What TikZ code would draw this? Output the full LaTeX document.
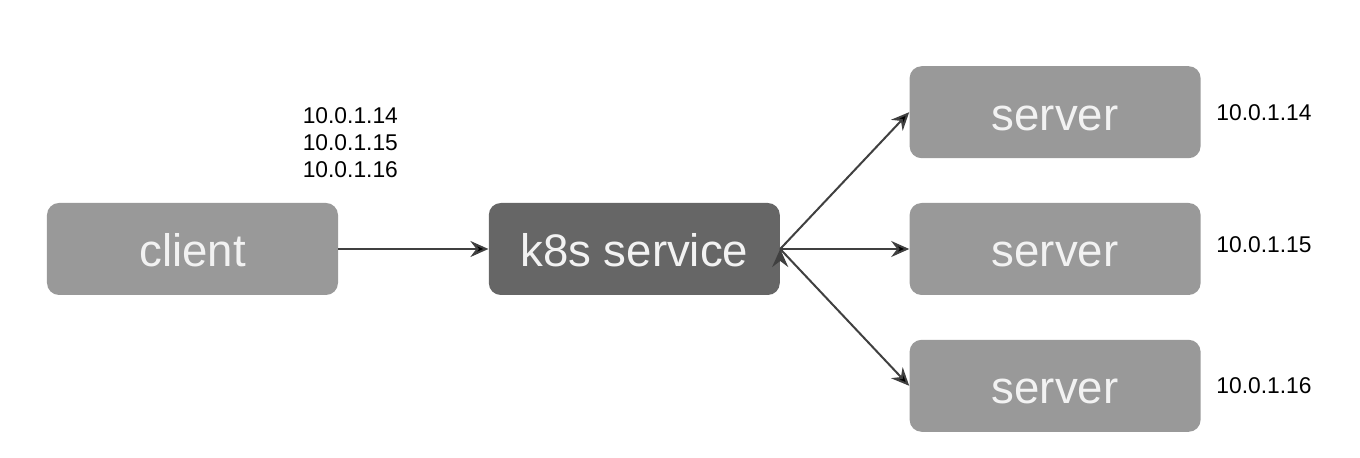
\documentclass[tikz,border=0pt]{standalone}
\usepackage{fontspec}
\setmainfont{Liberation Sans}
\usepackage{xcolor}
\usepackage{tikz}
\usetikzlibrary{positioning,arrows.meta}

\definecolor{boxgray}{HTML}{999999}
\definecolor{svcgray}{HTML}{666666}
\definecolor{boxtext}{HTML}{F2F2F2}
\definecolor{arrowgray}{HTML}{404040}

\tikzset{
  box/.style={rectangle, rounded corners=6pt, fill=boxgray, text=boxtext,
    minimum width=145.5pt, minimum height=46pt, inner sep=0pt,
    text height=18pt, text depth=0pt,
    font=\fontsize{22.8}{26}\selectfont},
  svc/.style={box, fill=svcgray},
  ip/.style={font=\fontsize{11.4}{13.5}\selectfont, align=left, inner sep=0pt},
  link/.style={draw=arrowgray, line width=1pt, -{Stealth[length=9pt, width=8pt, inset=3pt]}}
}

\begin{document}
\begin{tikzpicture}[node distance=75pt]
        \useasboundingbox (-96.25pt,-104.5pt) rectangle (583.75pt,124.5pt);

        \node[box] (client) {client};
        \node[svc] (service) [right = 75pt of client] {k8s service};

        \node[box] (server2) [right = 64.5pt of service] {server};
        \node[box] (server1) [above = 22pt of server2] {server};
        \node[box] (server3) [below = 22pt of server2] {server};

        \node[ip] (ips) [above right = 12pt and -18pt of client.north east] {10.0.1.14\\10.0.1.15\\10.0.1.16};
        \node[ip] (ip1) [right = 7.5pt of server1] {10.0.1.14};
        \node[ip] (ip2) [right = 7.5pt of server2, yshift=2pt] {10.0.1.15};
        \node[ip] (ip3) [right = 7.5pt of server3] {10.0.1.16};

        \path[link]
          (client) edge (service)
          (service.east) edge (server1.west)
          (service.east) edge (server2.west)
          (service.east) edge (server3.west);
  \end{tikzpicture}
\end{document}
